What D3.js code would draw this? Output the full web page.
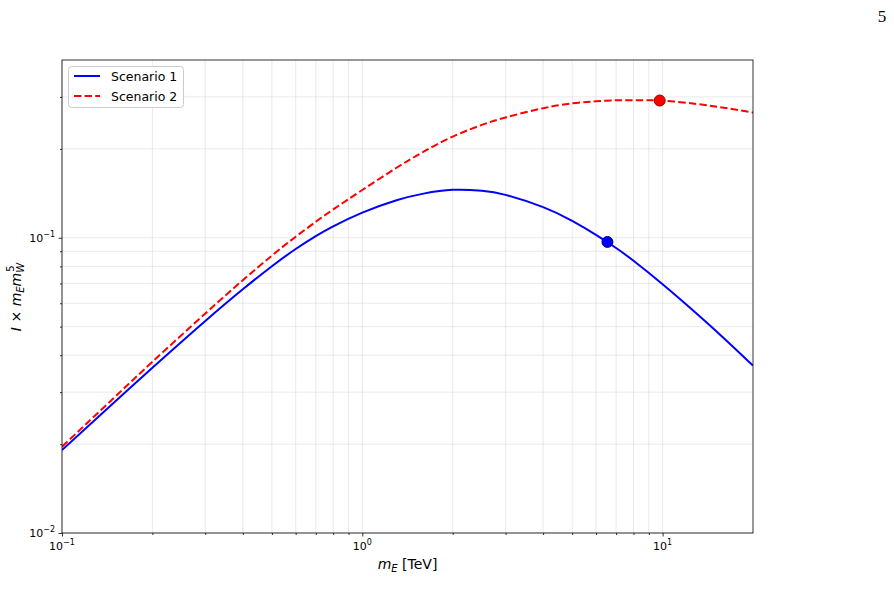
<!DOCTYPE html>
<html>
<head>
<meta charset="utf-8">
<script src="https://cdn.jsdelivr.net/npm/d3@7"></script>
<style>
  html, body { margin: 0; padding: 0; background: #fff; }
  svg { display: block; font-family: "DejaVu Sans", sans-serif; }
</style>
</head>
<body>
<svg id="chart" width="894" height="608"></svg>
<script>
// ---- data ----
const massTeV = [0.1, 0.15, 0.2, 0.3, 0.4, 0.5, 0.6, 0.7, 0.8, 1.0, 1.3, 1.6, 2, 2.5, 3, 4, 5, 6, 7, 8, 10, 13, 16, 20];
const scenario1 = [0.0191, 0.02785, 0.03628, 0.05225, 0.0669, 0.0801, 0.0916, 0.1013, 0.1093, 0.1216, 0.1340, 0.1411, 0.1453, 0.1443, 0.1397, 0.1270, 0.1141, 0.1023, 0.0923, 0.0836, 0.0696, 0.0553, 0.0457, 0.0369];
const scenario2 = [0.0196, 0.0289, 0.0380, 0.0554, 0.0718, 0.0870, 0.1008, 0.1133, 0.1247, 0.1451, 0.1726, 0.1956, 0.2201, 0.2411, 0.2556, 0.2746, 0.2852, 0.2899, 0.2921, 0.2925, 0.2912, 0.2838, 0.2757, 0.2654];
const markerX = [6.55, 9.78];
const markerY = [0.0968, 0.2916];
const seriesNames = ["Scenario 1", "Scenario 2"];
const xTickExps = [-1, 0, 1];
const yTickExps = [-2, -1];

// ---- layout ----
const svg = d3.select("#chart");
const L = 62, R = 753, T = 60, B = 533;
const x = d3.scaleLog().domain([0.1, 20]).range([L, R]);
const y = d3.scaleLog().domain([0.01, 0.4]).range([B, T]);

// minor/major tick values
const xMinor = [], yMinor = [];
for (let e = -1; e <= 1; e++) for (let m = 2; m <= 9; m++) { const v = m * Math.pow(10, e); if (v < 20) xMinor.push(v); }
for (let e = -2; e <= -1; e++) for (let m = 2; m <= 9; m++) { const v = m * Math.pow(10, e); if (v < 0.4) yMinor.push(v); }
const xMajor = xTickExps.map(e => Math.pow(10, e));
const yMajor = yTickExps.map(e => Math.pow(10, e));

// grid
const grid = svg.append("g").attr("stroke", "#b0b0b0").attr("stroke-opacity", 0.3).attr("stroke-width", 0.9);
xMinor.concat(xMajor).forEach(v => {
  grid.append("line").attr("x1", x(v)).attr("x2", x(v)).attr("y1", T).attr("y2", B);
});
yMinor.concat(yMajor).forEach(v => {
  grid.append("line").attr("x1", L).attr("x2", R).attr("y1", y(v)).attr("y2", y(v));
});

// axes via d3 axis
const xAxis = d3.axisBottom(x).tickValues(xMajor).tickSize(3.5).tickFormat("");
const xAxisMinor = d3.axisBottom(x).tickValues(xMinor).tickSize(2).tickFormat("");
const yAxis = d3.axisLeft(y).tickValues(yMajor).tickSize(3.5).tickFormat("");
const yAxisMinor = d3.axisLeft(y).tickValues(yMinor).tickSize(2).tickFormat("");
function styleAxis(g) { g.select(".domain").remove(); g.selectAll("line").attr("stroke", "#000").attr("stroke-width", 0.8); }
svg.append("g").attr("transform", `translate(0,${B})`).call(xAxis).call(styleAxis);
svg.append("g").attr("transform", `translate(0,${B})`).call(xAxisMinor).call(styleAxis);
svg.append("g").attr("transform", `translate(${L},0)`).call(yAxis).call(styleAxis);
svg.append("g").attr("transform", `translate(${L},0)`).call(yAxisMinor).call(styleAxis);

// tick labels with superscripts
xTickExps.forEach(e => {
  const t = svg.append("text").attr("x", x(Math.pow(10, e))).attr("y", B + 17)
    .attr("text-anchor", "middle").attr("font-size", 11).attr("fill", "#000");
  t.append("tspan").text("10");
  t.append("tspan").attr("dy", -5).attr("font-size", 8).text(e < 0 ? "\u2212" + (-e) : String(e));
});
yTickExps.forEach(e => {
  const t = svg.append("text").attr("x", L - 7).attr("y", y(Math.pow(10, e)) + 4)
    .attr("text-anchor", "end").attr("font-size", 11).attr("fill", "#000");
  t.append("tspan").text("10");
  t.append("tspan").attr("dy", -5).attr("font-size", 8).text(e < 0 ? "\u2212" + (-e) : String(e));
});

// plot lines
const clipId = "plotclip";
svg.append("clipPath").attr("id", clipId).append("rect").attr("x", L).attr("y", T).attr("width", R - L).attr("height", B - T);
const line = d3.line().x(d => x(d[0])).y(d => y(d[1])).curve(d3.curveNatural);
const plot = svg.append("g").attr("clip-path", `url(#${clipId})`);
plot.append("path").datum(massTeV.map((m, i) => [m, scenario1[i]]))
  .attr("d", line).attr("fill", "none").attr("stroke", "#0000ff").attr("stroke-width", 2);
plot.append("path").datum(massTeV.map((m, i) => [m, scenario2[i]]))
  .attr("d", line).attr("fill", "none").attr("stroke", "#ff0000").attr("stroke-width", 2)
  .attr("stroke-dasharray", "7.4,3.2");

// markers
const mFill = ["#0000ff", "#ff0000"], mEdge = ["#00008b", "#8b0000"];
markerX.forEach((mx, i) => {
  svg.append("circle").attr("cx", x(mx)).attr("cy", y(markerY[i])).attr("r", 5.5)
    .attr("fill", mFill[i]).attr("stroke", mEdge[i]).attr("stroke-width", 1);
});

// frame
svg.append("rect").attr("x", L).attr("y", T).attr("width", R - L).attr("height", B - T)
  .attr("fill", "none").attr("stroke", "#000").attr("stroke-width", 0.8);

// legend
const lg = svg.append("g");
lg.append("rect").attr("x", 68.5).attr("y", 66.5).attr("width", 115).attr("height", 41).attr("rx", 3)
  .attr("fill", "#fff").attr("fill-opacity", 0.8).attr("stroke", "#cccccc").attr("stroke-width", 1);
const legColors = ["#0000ff", "#ff0000"], legDash = [null, "7.4,3.2"];
seriesNames.forEach((n, i) => {
  const yy = 76 + i * 20;
  lg.append("line").attr("x1", 74).attr("x2", 100).attr("y1", yy).attr("y2", yy)
    .attr("stroke", legColors[i]).attr("stroke-width", 2).attr("stroke-dasharray", legDash[i]);
  lg.append("text").attr("x", 111).attr("y", yy + 4.5).attr("font-size", 12.5).attr("fill", "#000").text(n);
});

// x label
const xl = svg.append("text").attr("x", 407.5).attr("y", 569).attr("text-anchor", "middle").attr("font-size", 14).attr("fill", "#000");
xl.append("tspan").attr("font-style", "italic").text("m");
xl.append("tspan").attr("font-style", "italic").attr("font-size", 10).attr("dy", 3).text("E");
xl.append("tspan").attr("dy", -3).text(" [TeV]");

// y label
const yl = svg.append("text").attr("transform", "translate(21,297) rotate(-90)").attr("text-anchor", "middle").attr("font-size", 14).attr("fill", "#000");
yl.append("tspan").attr("font-style", "italic").text("I");
yl.append("tspan").text(" \u00d7 ");
yl.append("tspan").attr("font-style", "italic").text("m");
yl.append("tspan").attr("font-style", "italic").attr("font-size", 10).attr("dy", 3).text("E");
yl.append("tspan").attr("font-style", "italic").attr("dy", -3).text("m");
yl.append("tspan").attr("font-style", "italic").attr("font-size", 10).attr("dy", 3).text("W");
yl.append("tspan").attr("font-size", 10).attr("dx", -9).attr("dy", -10).text("5");

// page number
svg.append("text").attr("x", 882).attr("y", 22).attr("text-anchor", "middle")
  .style("font-family", "'Liberation Serif', 'DejaVu Serif', serif").attr("font-size", 17).attr("fill", "#000").text("5");
</script>
</body>
</html>
